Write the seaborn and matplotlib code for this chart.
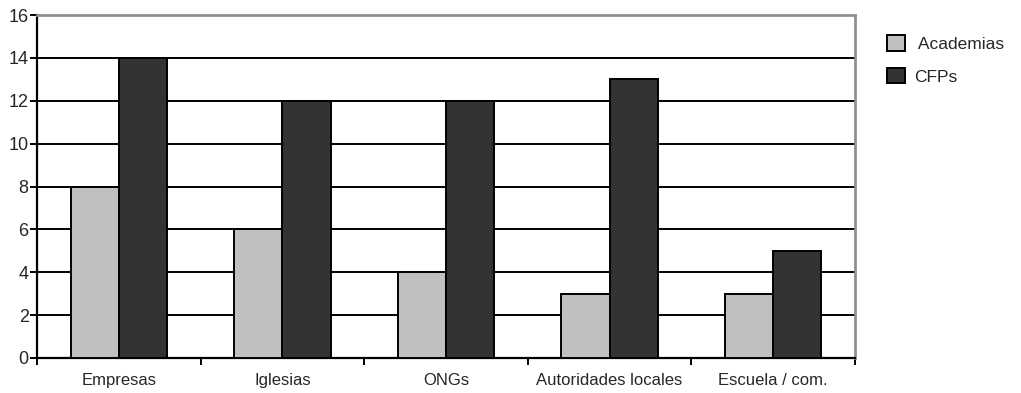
import matplotlib
matplotlib.use("Agg")
import matplotlib.pyplot as plt
from matplotlib.patches import Patch
from matplotlib.ticker import FixedLocator, NullFormatter
import seaborn as sns
import pandas as pd

categories = ["Empresas", "Iglesias", "ONGs", "Autoridades locales", "Escuela / com."]
academias = [8, 6, 4, 3, 3]
cfps = [14, 12, 12, 13, 5]
series_names = ["Academias", "CFPs"]
y_ticks = [0, 2, 4, 6, 8, 10, 12, 14, 16]

colors = {"Academias": "#C0C0C0", "CFPs": "#333333"}

df = pd.DataFrame({
    "categoria": categories * 2,
    "serie": [series_names[0]] * len(categories) + [series_names[1]] * len(categories),
    "valor": academias + cfps,
})

sns.set_theme(style="white")
plt.rcParams["font.family"] = ["Liberation Sans", "DejaVu Sans"]

fig = plt.figure(figsize=(10.21, 3.93), dpi=100)
ax = fig.add_axes([37 / 1021, 1 - 358 / 393, (855 - 37) / 1021, (358 - 15) / 393])

sns.barplot(data=df, x="categoria", y="valor", hue="serie", order=categories,
            hue_order=series_names, palette=colors, width=0.59, gap=0,
            edgecolor="black", linewidth=1.4, saturation=1, ax=ax, legend=False,
            zorder=3)

ax.set_ylim(0, 16)
ax.set_xlim(-0.5, len(categories) - 0.5)
ax.set_yticks(y_ticks)
ax.set_yticklabels([str(v) for v in y_ticks], fontsize=13)
ax.set_xticklabels(categories, fontsize=12)
ax.set_xlabel("")
ax.set_ylabel("")

# horizontal grid lines
ax.yaxis.grid(True, color="black", linewidth=1.4, zorder=0)
ax.xaxis.grid(False)
ax.set_axisbelow(True)

# category separators as outward minor ticks
ax.xaxis.set_minor_locator(FixedLocator([i - 0.5 for i in range(len(categories) + 1)]))
ax.xaxis.set_minor_formatter(NullFormatter())
ax.tick_params(axis="x", which="major", length=0, pad=11)
ax.tick_params(axis="x", which="minor", length=5, width=1.4, color="black", direction="out")
ax.tick_params(axis="y", length=5, width=1.4, color="black", direction="out", pad=1)
ax.xaxis.set_ticks_position("bottom")
ax.yaxis.set_ticks_position("left")

for side in ["left", "bottom"]:
    ax.spines[side].set_color("black")
    ax.spines[side].set_linewidth(1.6)
for side in ["top", "right"]:
    ax.spines[side].set_color("#909090")
    ax.spines[side].set_linewidth(2)
    ax.spines[side].set_visible(True)

handles = [Patch(facecolor=colors[s], edgecolor="black", linewidth=1.4) for s in series_names]
fig.legend(handles, [" Academias", "CFPs"], loc="upper left",
           bbox_to_anchor=(884 / 1021, 1 - 32 / 393), frameon=False, fontsize=12.5,
           handlelength=1.0, handleheight=1.0, handletextpad=0.55, labelspacing=0.9,
           borderaxespad=0, borderpad=0.2)

fig.savefig("out.png", dpi=100)
